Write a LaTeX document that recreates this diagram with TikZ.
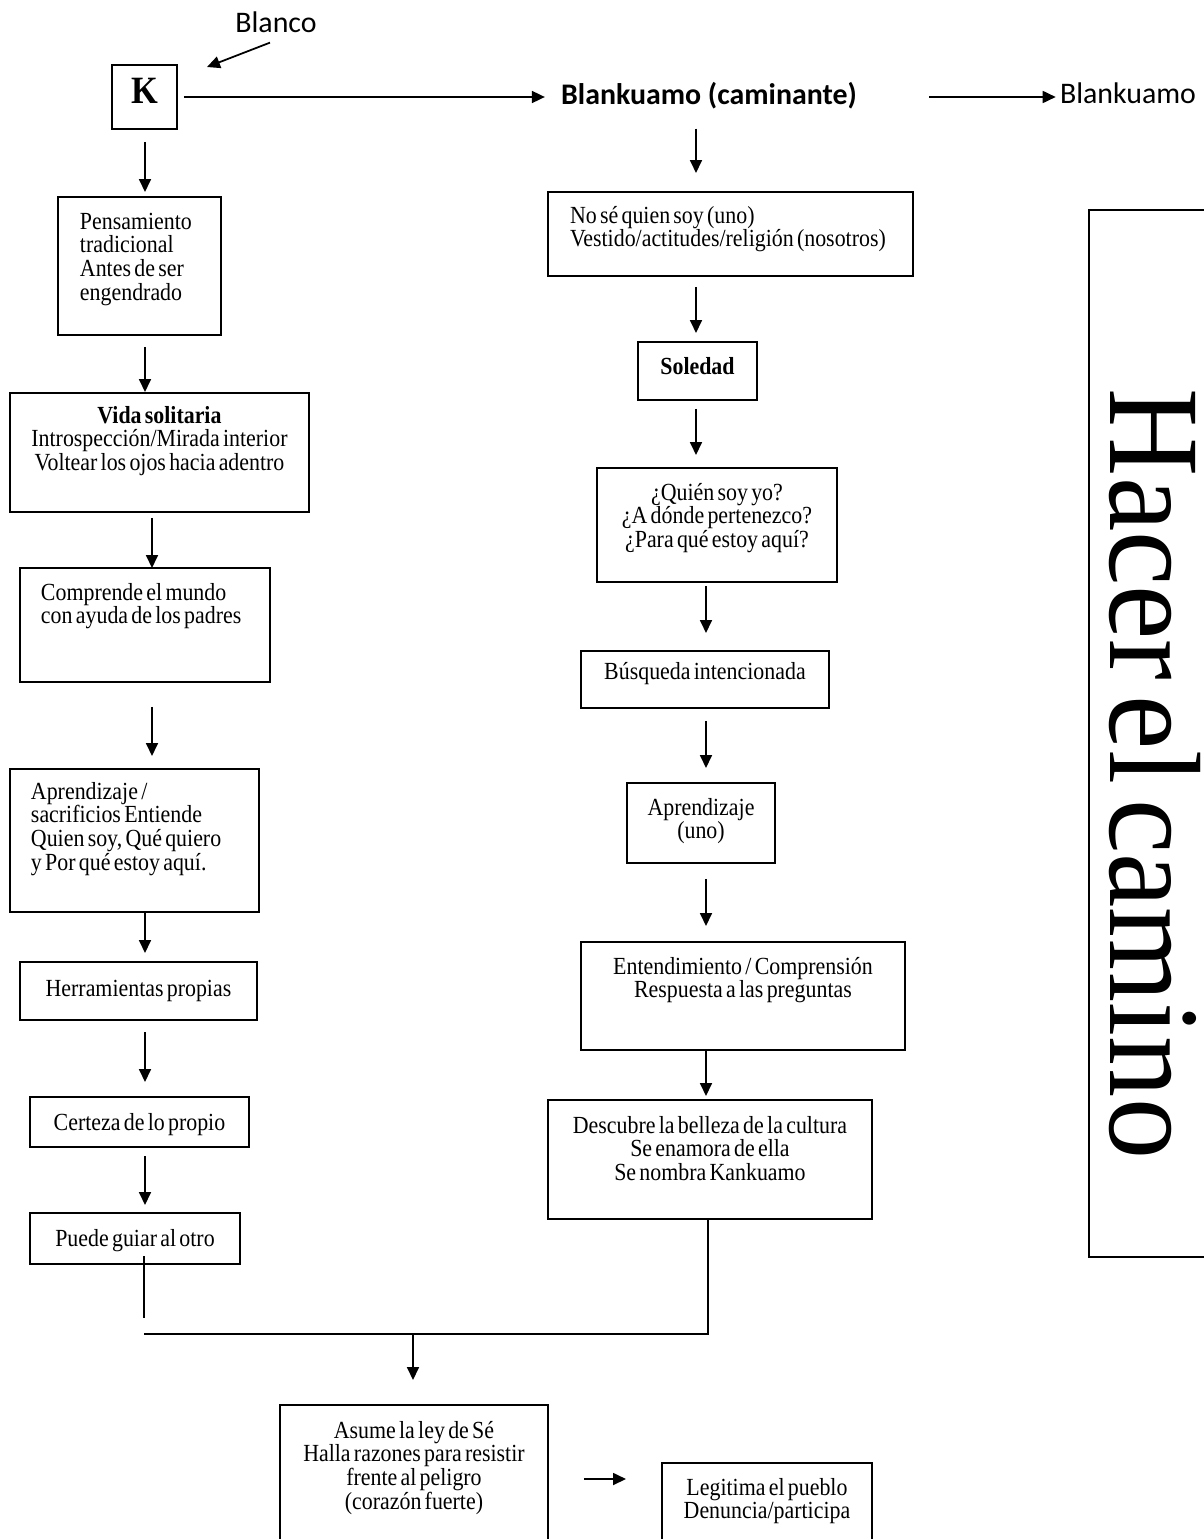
\documentclass[tikz,border=0pt]{standalone}
\usepackage{fontspec}
\usetikzlibrary{arrows.meta}
\newfontfamily\cajaf{Liberation Serif}[FakeStretch=0.89, WordSpace=0.6]
\newfontfamily\rotf{Carlito}
\newfontfamily\lemaf{Liberation Serif}[FakeStretch=0.94, WordSpace=0.5]
\newcommand\cajafont{\cajaf\fontsize{14}{13.6}\selectfont\lineskiplimit=-20pt}
\newcommand\rotfont{\rotf\fontsize{17}{20}\selectfont}
\tikzset{
  caja/.style={draw, line width=1pt, anchor=north west, inner ysep=0pt,
    outer sep=0pt, font=\cajafont},
  cajal/.style={caja, align=flush left},
  cajac/.style={caja, align=flush center, inner xsep=0.1cm},
  rotulo/.style={anchor=base, inner sep=0pt, text height=12pt,
    text depth=3pt, font=\rotfont},
  flecha/.style={-{Triangle[length=0.26cm,width=0.24cm]}, line width=1pt},
}
\begin{document}
\begin{tikzpicture}[x=0.02cm, y=-0.02cm]
  \useasboundingbox (0,0) rectangle (1204,1539);
  \node[rotulo] (blanco) at (276,32) {Blanco};
  \node[caja, minimum width=1.3cm, text height=0.78cm, text depth=0.5cm,
    font=\cajaf\bfseries\fontsize{22}{24}\selectfont] (k) at (112,65) {K};
  \node[rotulo, font=\rotfont\bfseries] (cam) at (709,104) {Blankuamo (caminante)};
  \node[rotulo] (blk) at (1128,103) {Blankuamo};
  \draw[flecha] ([xshift=-0.12cm,yshift=-0.1cm]blanco.south)
    -- ([xshift=0.6cm,yshift=-0.04cm]k.north east);
  \draw[flecha, shorten <=0.14cm, shorten >=0.32cm] (k.east) -- (cam.west |- k.east);
  \draw[flecha, shorten <=1.44cm, shorten >=0.08cm] (cam.east |- k.east) -- (blk.west |- k.east);

  \node[cajal, inner xsep=0.44cm, text width=2.38cm, text height=0.64cm,
    text depth=2.12cm] (pens) at (58,197)
    {Pensamiento\\tradicional\\Antes de ser\\engendrado};
  \node[cajac, text width=5.78cm, text height=0.6cm, text depth=1.78cm] (vida) at (10,393)
    {\textbf{Vida solitaria}\\Introspección/Mirada interior\\Voltear los ojos hacia adentro};
  \node[cajal, inner xsep=0.42cm, text width=4.16cm, text height=0.64cm,
    text depth=1.64cm] (comp) at (20,568)
    {Comprende el mundo\\con ayuda de los padres};
  \node[cajal, inner xsep=0.42cm, text width=4.14cm, text height=0.6cm,
    text depth=2.26cm] (apr) at (10,769)
    {Aprendizaje /\\sacrificios Entiende\\Quien soy, Qué quiero\\y Por qué estoy aquí.};
  \node[caja, minimum width=4.74cm, text height=0.68cm, text depth=0.48cm] (herr)
    at (20,962) {Herramientas propias};
  \node[caja, minimum width=4.38cm, text height=0.66cm, text depth=0.34cm] (cert)
    at (30,1097) {Certeza de lo propio};
  \node[caja, minimum width=4.2cm, text height=0.66cm, text depth=0.36cm] (puede)
    at (30,1213) {Puede guiar al otro};

  \node[cajal, inner xsep=0.44cm, text width=6.42cm, text height=0.62cm,
    text depth=1.06cm] (nose) at (548,192)
    {No sé quien soy (uno)\\Vestido/actitudes/religión (nosotros)};
  \node[caja, minimum width=2.38cm, text height=0.64cm, text depth=0.52cm,
    font=\cajafont\bfseries] (sol) at (638,342) {Soledad};
  \node[cajac, text width=4.6cm, text height=0.64cm, text depth=1.64cm] (preg) at (597,468)
    {¿Quién soy yo?\\¿A dónde pertenezco?\\¿Para qué estoy aquí?};
  \node[caja, minimum width=4.96cm, text height=0.56cm, text depth=0.58cm] (busq)
    at (581,651) {Búsqueda intencionada};
  \node[cajac, text width=2.76cm, text height=0.64cm, text depth=0.96cm] (apr2) at (627,783)
    {Aprendizaje\\(uno)};
  \node[cajac, text width=6.28cm, text height=0.64cm, text depth=1.52cm] (ent) at (581,942)
    {Entendimiento / Comprensión\\Respuesta a las preguntas};
  \node[cajac, text width=6.28cm, text height=0.66cm, text depth=1.72cm] (desc) at (548,1100)
    {Descubre la belleza de la cultura\\Se enamora de ella\\Se nombra Kankuamo};

  \node[cajac, text width=5.16cm, text height=0.66cm, text depth=2.44cm] (asume) at (280,1405)
    {Asume la ley de Sé\\Halla razones para resistir\\frente al peligro\\(corazón fuerte)};
  \node[cajac, text width=4cm, text height=0.64cm, text depth=1.3cm] (legit) at (662,1463)
    {Legitima el pueblo\\Denuncia/participa};

  \draw[line width=1pt] (1089,210) rectangle (1260,1257);
  \node[rotate=-90, inner sep=0pt, font=\lemaf\fontsize{74}{80}\selectfont] (lema)
    at (1155,774) {Hacer el camino};

  \draw[flecha, shorten <=0.26cm, shorten >=0.1cm] (k.south -| 145,0) -- (pens.north -| 145,0);
  \draw[flecha, shorten <=0.24cm, shorten >=0.02cm] (pens.south -| 145,0) -- (vida.north -| 145,0);
  \draw[flecha, shorten <=0.12cm] (vida.south -| 152,0) -- (comp.north -| 152,0);
  \draw[flecha, shorten <=0.5cm, shorten >=0.26cm] (comp.south -| 152,0) -- (apr.north -| 152,0);
  \draw[flecha, shorten >=0.18cm] (apr.south -| 145,0) -- (herr.north -| 145,0);
  \draw[flecha, shorten <=0.24cm, shorten >=0.3cm] (herr.south -| 145,0) -- (cert.north -| 145,0);
  \draw[flecha, shorten <=0.18cm, shorten >=0.16cm] (cert.south -| 145,0) -- (puede.north -| 145,0);

  \draw[flecha, shorten <=0.38cm, shorten >=0.38cm] (cam.south -| 696,0) -- (nose.north -| 696,0);
  \draw[flecha, shorten <=0.22cm, shorten >=0.18cm] (nose.south -| 696,0) -- (sol.north -| 696,0);
  \draw[flecha, shorten <=0.18cm, shorten >=0.26cm] (sol.south -| 696,0) -- (preg.north -| 696,0);
  \draw[flecha, shorten <=0.08cm, shorten >=0.36cm] (preg.south -| 706,0) -- (busq.north -| 706,0);
  \draw[flecha, shorten <=0.26cm, shorten >=0.3cm] (busq.south -| 706,0) -- (apr2.north -| 706,0);
  \draw[flecha, shorten <=0.32cm, shorten >=0.32cm] (apr2.south -| 706,0) -- (ent.north -| 706,0);
  \draw[flecha, shorten >=0.08cm] (ent.south -| 706,0) -- (desc.north -| 706,0);

  \coordinate (fin) at (144,1318);
  \coordinate (union) at (144,1334);
  \coordinate (baja) at (413,1334);
  \draw[line width=1pt] ([yshift=0.16cm]puede.south -| fin) -- (fin);
  \draw[line width=1pt] (desc.south -| 708,0) |- (union);
  \draw[flecha, shorten >=0.5cm] (baja) -- (asume.north -| baja);
  \draw[flecha, shorten <=0.72cm, shorten >=0.72cm] (asume.east |- 0,1479) -- (legit.west |- 0,1479);
\end{tikzpicture}
\end{document}
